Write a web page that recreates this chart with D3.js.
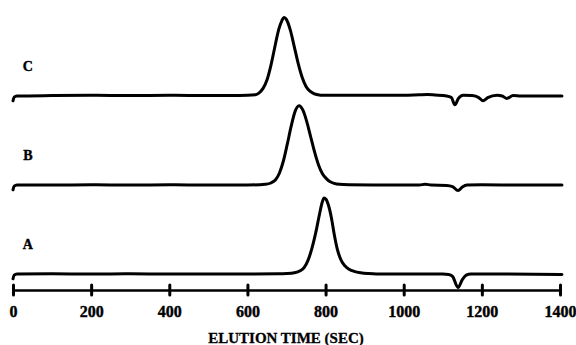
<!DOCTYPE html>
<html>
<head>
<meta charset="utf-8">
<script src="https://cdn.jsdelivr.net/npm/d3@7"></script>
<style>
  html, body { margin: 0; padding: 0; background: #fff; }
  svg { display: block; }
</style>
</head>
<body>
<svg id="chart"></svg>
<script>
// chromatogram traces, [time (sec), detector signal (arb. units)]
const traceNames = ["C", "B", "A"];

const elutionC = [[0,-6],[3,-1.5],[10,0],[100,0.5],[200,0.8],[300,0.5],[400,0.8],[500,0.5],[560,0.5],[600,0.8],
  [620,1.5],[630,4],[640,9.5],[650,20],[660,38],[670,61],[680,83],[688,94],[694,98],[700,95.5],
  [710,82],[720,61.5],[730,40.5],[740,23.5],[750,12],[760,6],[770,3],[780,1.5],[795,0.8],[820,0.8],
  [900,0.8],[1000,0.8],[1040,1.5],[1060,1.8],[1080,1.2],[1110,0],[1122,-2],[1131,-11],[1140,-3],[1152,1],
  [1175,0.5],[1192,-2],[1203,-6],[1215,-2],[1239,1],[1252,0],[1264,-3],[1280,0.5],[1300,0],[1405,0]];

const elutionB = [[0,-6],[3,-1.5],[10,0],[100,0],[200,0.3],[300,0],[400,0.3],[500,0],[600,0],[630,0.3],
  [645,0.8],[660,2.5],[672,6.5],[682,15],[692,30],[702,51],[712,73.5],[722,92],[732,99],[742,93.5],
  [752,79],[762,60],[772,41],[782,25],[792,14],[802,8],[812,4],[822,2],[835,0.8],[860,0.3],
  [950,0],[1040,0],[1055,1],[1070,0],[1110,-0.5],[1125,-2],[1139,-7],[1150,-2.5],[1162,0],[1200,0.3],
  [1300,0],[1405,0]];

const elutionA = [[0,-6],[3,-1.5],[10,0],[100,0.3],[200,0],[300,0.3],[400,0],[500,0],[600,0],[680,0.2],
  [700,0.5],[720,1.5],[735,4],[745,8],[755,17],[765,32],[775,52],[785,76],[791,89],[796,95],
  [801,93.5],[808,85],[815,70],[822,50],[830,31],[840,17],[850,10],[860,6],[875,3],[890,1.5],
  [910,0.5],[930,0],[1000,0],[1100,0],[1115,-0.5],[1125,-3],[1139,-17],[1150,-7],[1160,-1.5],[1172,0],
  [1250,0],[1405,-0.5]];

const traces = { C: elutionC, B: elutionB, A: elutionA };
const timeTicks = [0, 200, 400, 600, 800, 1000, 1200, 1400];
const axisTitle = "ELUTION TIME (SEC)";

const width = 576, height = 345;
const svg = d3.select("#chart").attr("width", width).attr("height", height);

const x = d3.scaleLinear().domain([0, 1400]).range([13, 560]);
// baseline of each stacked trace
const yBase = d3.scalePoint().domain(traceNames).range([96, 274]);
// signal height in pixels
const s = d3.scaleLinear().domain([0, 100]).range([0, 80]);

const serif = "'Liberation Serif', 'Times New Roman', serif";

traceNames.forEach(name => {
  const line = d3.line()
    .x(d => x(d[0]))
    .y(d => yBase(name) - s(d[1]))
    .curve(d3.curveMonotoneX);

  svg.append("path")
    .datum(traces[name])
    .attr("d", line)
    .attr("fill", "none")
    .attr("stroke", "#000")
    .attr("stroke-width", 3)
    .attr("stroke-linejoin", "round")
    .attr("stroke-linecap", "round");

  svg.append("text")
    .attr("x", x(38))
    .attr("y", yBase(name) - s(31))
    .attr("text-anchor", "middle")
    .attr("stroke", "#000")
    .attr("stroke-width", 0.4)
    .style("font", `bold 14px ${serif}`)
    .text(name);
});

// time axis
const axis = svg.append("g")
  .attr("transform", "translate(0,290)")
  .call(d3.axisBottom(x).tickValues(timeTicks).tickSizeOuter(0).tickSizeInner(5).tickFormat(d3.format("d")));

axis.select(".domain")
  .attr("stroke", "#000")
  .attr("stroke-width", 2.5);
axis.selectAll(".tick line")
  .attr("y1", -5)
  .attr("y2", 5)
  .attr("stroke", "#000")
  .attr("stroke-width", 3)
  .attr("stroke-linecap", "round");
axis.selectAll(".tick text")
  .attr("y", 27)
  .attr("dy", 0)
  .attr("fill", "#000")
  .attr("stroke", "#000")
  .attr("stroke-width", 0.4)
  .style("font", `bold 16px ${serif}`);

svg.append("text")
  .attr("x", 286)
  .attr("y", 343)
  .attr("text-anchor", "middle")
  .attr("stroke", "#000")
  .attr("stroke-width", 0.3)
  .style("font", `bold 15px ${serif}`)
  .text(axisTitle);
</script>
</body>
</html>
